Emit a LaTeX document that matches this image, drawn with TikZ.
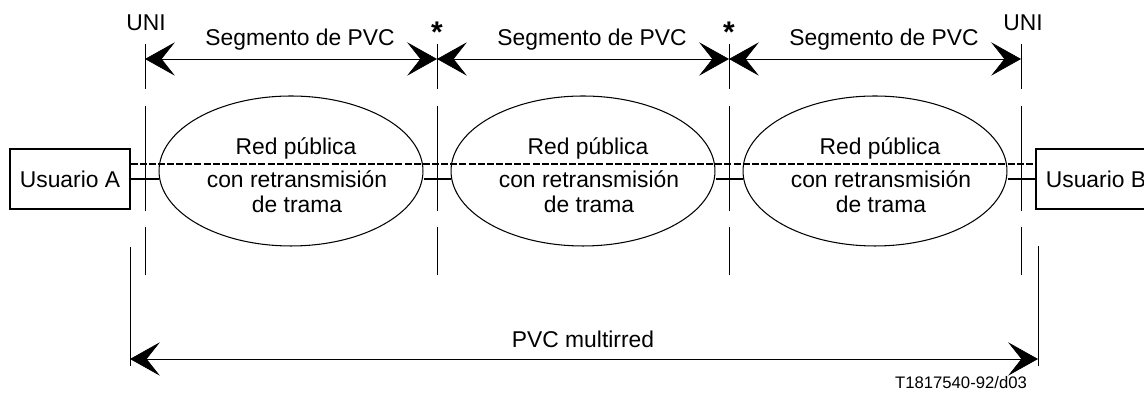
\documentclass[tikz,border=0pt]{standalone}
\usepackage{fontspec}
\setmainfont{Liberation Sans}
\usetikzlibrary{arrows.meta,shapes.geometric}
\tikzset{
    usuario/.style={
    rectangle,draw=black,line width=0.6pt,minimum width=2.4cm,minimum height=1.2cm,inner sep=0pt
    },
    netw/.style={
    ellipse,draw=black,line width=0.6pt,minimum width=5.28cm,minimum height=3cm,inner sep=0pt
    },
    sep/.style={
    draw=black,line width=0.4pt,dash pattern=on 25.5pt off 9.6pt on 60.1pt off 9.1pt on 27.2pt off 60pt
    },
    dim/.style={
    draw=black,line width=0.4pt,
    {Stealth[length=17pt,width=19pt,inset=7.5pt]}-{Stealth[length=17pt,width=19pt,inset=7.5pt]}
    },
    trama/.style={
    draw=black,line width=0.8pt,dash pattern=on 4pt off 1.2pt
    },
    enlace/.style={
    draw=black,line width=0.8pt
    },
    punto/.style={
    font=\fontsize{17}{17}\selectfont\bfseries
    },
}

\begin{document}
\begin{tikzpicture}[x=0.02cm, y=-0.02cm, font=\fontsize{13}{14.2}\selectfont]
   \clip (0,0) rectangle (1144,394);

   %usuarios
   \node[usuario] (usrA) at (70,179) {Usuario A};
   \node[usuario] (usrB) at (1096,179) {Usuario B};

   %redes
   \node[netw] (net1) at (291,171) {};
   \node[netw] (net2) at (583,171) {};
   \node[netw] (net3) at (875,171) {};
   \node[] (txt1a) at (296,148) {Red pública};
   \node[align=center] (txt1b) at (297,192) {con retransmisión\\de trama};
   \node[] (txt2a) at (588,148) {Red pública};
   \node[align=center] (txt2b) at (589,192) {con retransmisión\\de trama};
   \node[] (txt3a) at (880,148) {Red pública};
   \node[align=center] (txt3b) at (881,192) {con retransmisión\\de trama};

   %interfaces
   \node[] (uniA) at (146,23) {UNI};
   \node[punto] (pt1) at (437,32) {*};
   \node[punto] (pt2) at (729,32) {*};
   \node[] (uniB) at (1023,23) {UNI};
   \coordinate (v1t) at (145,44);
   \coordinate (v1b) at (145,276);
   \coordinate (v2t) at (437,44);
   \coordinate (v2b) at (437,276);
   \coordinate (v3t) at (729,44);
   \coordinate (v3b) at (729,276);
   \coordinate (v4t) at (1021,44);
   \coordinate (v4b) at (1021,276);

   %segmentos
   \coordinate (s1) at (145,59);
   \coordinate (s2) at (437,59);
   \coordinate (s3) at (729,59);
   \coordinate (s4) at (1021,59);
   \node[] (seg1) at (300,40) {Segmento de PVC};
   \node[] (seg2) at (592,40) {Segmento de PVC};
   \node[] (seg3) at (884,40) {Segmento de PVC};

   %multirred
   \coordinate (mAt) at (130,247);
   \coordinate (mAb) at (130,366);
   \coordinate (mBt) at (1038,246);
   \coordinate (mBb) at (1038,366);
   \coordinate (mA) at (130,359);
   \coordinate (mB) at (1038,359);
   \node[] (multi) at (583,339) {PVC multirred};
   \node[font=\fontsize{9.5}{11}\selectfont] (ref) at (961,383) {T1817540-92/d03};

   \draw[sep] (v1t) -- (v1b);
   \draw[sep] (v2t) -- (v2b);
   \draw[sep] (v3t) -- (v3b);
   \draw[sep] (v4t) -- (v4b);

   \draw[dim] (s1) -- (s2);
   \draw[dim] (s2) -- (s3);
   \draw[dim] (s3) -- (s4);

   \draw[line width=0.4pt] (mAt) -- (mAb);
   \draw[line width=0.4pt] (mBt) -- (mBb);
   \draw[dim] (mA) -- (mB);

   %enlaces
   \draw[enlace] (usrA.east) -- (usrA.east -| net1.west);
   \draw[enlace] ([yshift=-0.16cm]net1.east) -- ([yshift=-0.16cm]net2.west);
   \draw[enlace] ([yshift=-0.16cm]net2.east) -- ([yshift=-0.16cm]net3.west);
   \draw[enlace] (net3.east |- usrB.west) -- (usrB.west);
   \draw[trama] ([yshift=0.3cm]usrA.east) -- ([yshift=0.3cm]usrB.west);
\end{tikzpicture}
\end{document}
